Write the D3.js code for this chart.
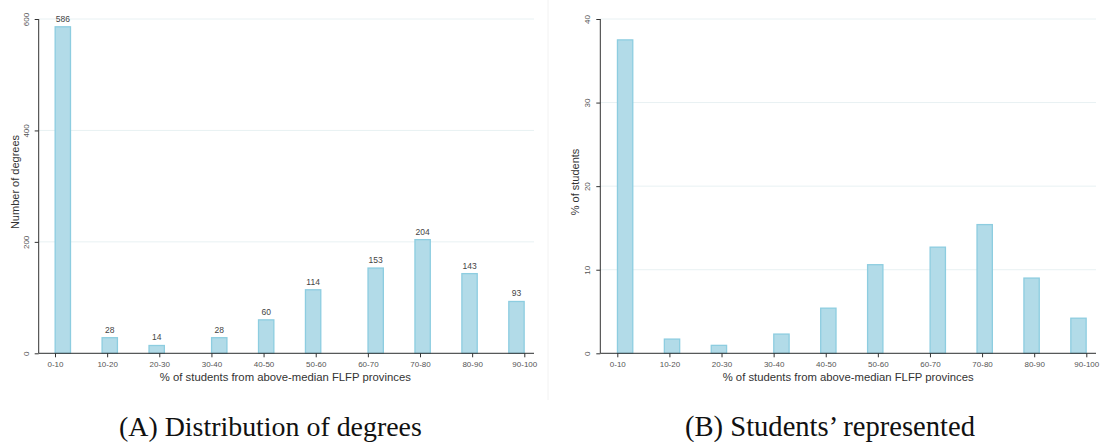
<!DOCTYPE html>
<html>
<head>
<meta charset="utf-8">
<script src="https://cdn.jsdelivr.net/npm/d3@7"></script>
<style>
  html, body { margin: 0; padding: 0; background: #fff; }
  svg { display: block; }
</style>
</head>
<body>
<svg id="chart" width="1101" height="442"></svg>
<script>
// ---------- data ----------
const categories = ["0-10","10-20","20-30","30-40","40-50","50-60","60-70","70-80","80-90","90-100"];
// bar centre positions on the x axis (in category-index units, as plotted in the original)
const barX = [0.15, 1.05, 1.95, 3.15, 4.05, 4.95, 6.15, 7.05, 7.95, 8.85];
const degrees = [586, 28, 14, 28, 60, 114, 153, 204, 143, 93];
const studentsPct = [37.5, 1.7, 0.95, 2.3, 5.4, 10.6, 12.7, 15.4, 9.0, 4.2];
const ticksA = [0, 200, 400, 600];
const ticksB = [0, 10, 20, 30, 40];
const xTitle = "% of students from above-median FLFP provinces";
const captionA = "(A) Distribution of degrees";
const captionB = "(B) Students\u2019 represented";

const svg = d3.select("#chart");
const sans = "'Liberation Sans', Arial, sans-serif";

function panel(opts) {
  const g = svg.append("g");
  const x = d3.scaleLinear().domain([0, 9]).range([opts.x0, opts.x1]);
  const y = d3.scaleLinear().domain([0, opts.ymax]).range([353.3, 19]);

  // gridlines
  g.append("g").selectAll("line").data(opts.yticks).join("line")
    .attr("x1", opts.axisX).attr("x2", opts.plotRight)
    .attr("y1", d => y(d)).attr("y2", d => y(d))
    .attr("stroke", "#e8f1f3").attr("stroke-width", 1);

  // bars
  const halfW = 0.147;
  g.append("g").selectAll("rect").data(opts.values).join("rect")
    .attr("x", (d, i) => x(barX[i] - halfW))
    .attr("width", (d, i) => x(barX[i] + halfW) - x(barX[i] - halfW))
    .attr("y", d => y(d))
    .attr("height", d => y(0) - y(d))
    .attr("fill", "#b2dbe8")
    .attr("stroke", "#8dcde0")
    .attr("stroke-width", 1.3);

  // value labels
  if (opts.labels) {
    g.append("g").selectAll("text").data(opts.values).join("text")
      .attr("x", (d, i) => x(barX[i]))
      .attr("y", d => y(d) - 5)
      .attr("text-anchor", "middle")
      .attr("font-family", sans).attr("font-size", 8.5)
      .attr("fill", "#444")
      .text(d => d);
  }

  // y axis
  const yAxis = d3.axisLeft(y).tickValues(opts.yticks).tickSize(4).tickPadding(3);
  const ya = g.append("g").attr("transform", `translate(${opts.axisX},0)`).call(yAxis);
  ya.select(".domain").attr("stroke", "#333").attr("d", `M0,${y(0)}V${y(opts.ymax)}`);
  ya.selectAll(".tick line").attr("stroke", "#333");
  ya.selectAll(".tick text")
    .attr("font-family", sans).attr("font-size", 8).attr("fill", "#555")
    .attr("transform", "rotate(-90)")
    .attr("x", 0).attr("y", -10)
    .attr("dy", "0")
    .attr("text-anchor", "middle");

  // x axis
  const xAxis = d3.axisBottom(x).tickValues(d3.range(10)).tickFormat(i => categories[i]).tickSize(4).tickPadding(4);
  const xa = g.append("g").attr("transform", `translate(0,${y(0)})`).call(xAxis);
  xa.select(".domain").attr("stroke", "#333").attr("d", `M${opts.axisX},0H${opts.plotRight}`);
  xa.selectAll(".tick line").attr("stroke", "#333");
  xa.selectAll(".tick text").attr("font-family", sans).attr("font-size", 8).attr("fill", "#555");

  // axis titles
  g.append("text")
    .attr("x", (opts.axisX + opts.plotRight) / 2 + opts.titleShift).attr("y", 381)
    .attr("text-anchor", "middle").attr("font-family", sans).attr("font-size", 11.3).attr("fill", "#333")
    .text(xTitle);
  g.append("text")
    .attr("transform", `translate(${opts.yTitleX},182) rotate(-90)`)
    .attr("text-anchor", "middle").attr("font-family", sans).attr("font-size", 11).attr("fill", "#333")
    .text(opts.yTitle);

  // caption
  const cap = g.append("text")
    .attr("x", opts.capX).attr("y", 436)
    .attr("font-family", "'Liberation Serif', 'Times New Roman', serif").attr("font-size", 24).attr("fill", "#111")
    .text(opts.caption);
  const w = cap.node().getComputedTextLength();
  cap.attr("font-size", 24 * opts.capW / w);
}

panel({ x0: 55, x1: 524.3, axisX: 38.7, plotRight: 534, ymax: 600, yticks: ticksA,
        values: degrees, labels: true, yTitle: "Number of degrees", yTitleX: 19,
        titleShift: -1, caption: captionA, capX: 119, capW: 303 });
panel({ x0: 617.3, x1: 1086.3, axisX: 600.3, plotRight: 1096, ymax: 40, yticks: ticksB,
        values: studentsPct, labels: false, yTitle: "% of students", yTitleX: 579,
        titleShift: 0, caption: captionB, capX: 685, capW: 290 });

// faint separator between panels
svg.append("line").attr("x1", 548).attr("x2", 548).attr("y1", 0).attr("y2", 400)
  .attr("stroke", "#f2f2f2").attr("stroke-width", 1);
</script>
</body>
</html>
